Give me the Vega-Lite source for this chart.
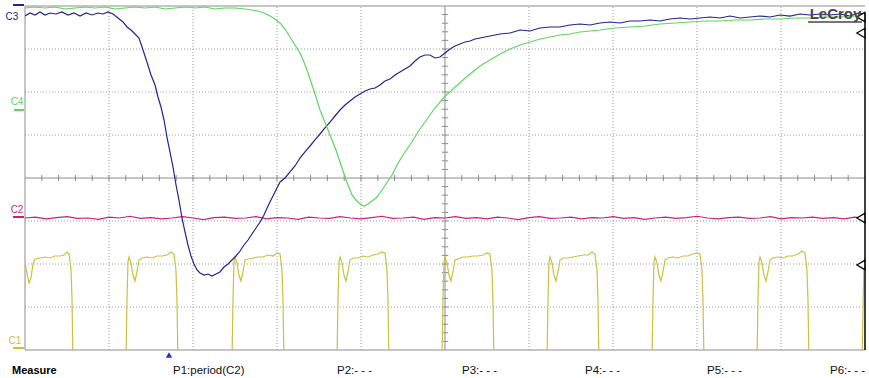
{
"$schema": "https://vega.github.io/schema/vega-lite/v6.json",
"width": 840, "height": 344,
"autosize": {"type": "none"},
"padding": {"left": 25, "top": 6, "right": 4, "bottom": 28},
"background": "white",
"config": {"view": {"stroke": null}, "axis": {"disable": true}, "legend": {"disable": true}, "font": "Liberation Sans"},
"datasets": {
"gridx": [{"x":1},{"x":2},{"x":3},{"x":4},{"x":6},{"x":7},{"x":8},{"x":9}],
"gridy": [{"y":-3},{"y":-2},{"y":-1},{"y":1},{"y":2},{"y":3}],
"frame": [{"x":0,"x2":0,"y":-4,"y2":4},{"x":0,"x2":10,"y":-4,"y2":-4},{"x":0,"x2":10,"y":4,"y2":4},{"x":5,"x2":5,"y":-4,"y2":4},{"x":0,"x2":10,"y":0,"y2":0}],
"hticks": [{"t":0.2},{"t":0.4},{"t":0.6},{"t":0.8},{"t":1.0},{"t":1.2},{"t":1.4},{"t":1.6},{"t":1.8},{"t":2.0},{"t":2.2},{"t":2.4},{"t":2.6},{"t":2.8},{"t":3.0},{"t":3.2},{"t":3.4},{"t":3.6},{"t":3.8},{"t":4.0},{"t":4.2},{"t":4.4},{"t":4.6},{"t":4.8},{"t":5.2},{"t":5.4},{"t":5.6},{"t":5.8},{"t":6.0},{"t":6.2},{"t":6.4},{"t":6.6},{"t":6.8},{"t":7.0},{"t":7.2},{"t":7.4},{"t":7.6},{"t":7.8},{"t":8.0},{"t":8.2},{"t":8.4},{"t":8.6},{"t":8.8},{"t":9.0},{"t":9.2},{"t":9.4},{"t":9.6},{"t":9.8}],
"vticks": [{"t":-3.8},{"t":-3.6},{"t":-3.4},{"t":-3.2},{"t":-3.0},{"t":-2.8},{"t":-2.6},{"t":-2.4},{"t":-2.2},{"t":-2.0},{"t":-1.8},{"t":-1.6},{"t":-1.4},{"t":-1.2},{"t":-1.0},{"t":-0.8},{"t":-0.6},{"t":-0.4},{"t":-0.2},{"t":0.2},{"t":0.4},{"t":0.6},{"t":0.8},{"t":1.0},{"t":1.2},{"t":1.4},{"t":1.6},{"t":1.8},{"t":2.0},{"t":2.2},{"t":2.4},{"t":2.6},{"t":2.8},{"t":3.0},{"t":3.2},{"t":3.4},{"t":3.6},{"t":3.8}],
"chmarks": [{"ch":"C3","x":-0.143,"x2":-0.012,"y":4.023},{"ch":"C4","x":-0.131,"x2":-0.012,"y":1.581},{"ch":"C2","x":-0.143,"x2":-0.012,"y":-0.907},{"ch":"C1","x":-0.143,"x2":-0.012,"y":-3.953}],
"chlabels": [{"ch":"C3","x":-0.155,"y":3.744},{"ch":"C4","x":-0.095,"y":1.767},{"ch":"C2","x":-0.095,"y":-0.744},{"ch":"C1","x":-0.119,"y":-3.791}],
"edgemarks": [{"y":3.744},{"y":3.37},{"y":-0.93},{"y":-2.023}],
"meas": [{"t":"P1:period(C2)","x":1.762},{"t":"P2:- - -","x":3.714},{"t":"P3:- - -","x":5.202},{"t":"P4:- - -","x":6.667},{"t":"P5:- - -","x":8.119},{"t":"P6:- - -","x":9.583}],
"traces": [
{"ch":"C1","x":0,"y":-1.953},{"ch":"C1","x":0.012,"y":-2.093},{"ch":"C1","x":0.036,"y":-2.326},{"ch":"C1","x":0.048,"y":-2.442},{"ch":"C1","x":0.071,"y":-2.326},{"ch":"C1","x":0.095,"y":-2.0},{"ch":"C1","x":0.119,"y":-1.884},{"ch":"C1","x":0.179,"y":-1.86},{"ch":"C1","x":0.238,"y":-1.837},{"ch":"C1","x":0.298,"y":-1.86},{"ch":"C1","x":0.357,"y":-1.814},{"ch":"C1","x":0.417,"y":-1.814},{"ch":"C1","x":0.464,"y":-1.791},{"ch":"C1","x":0.5,"y":-1.721},{"ch":"C1","x":0.524,"y":-1.767},{"ch":"C1","x":0.548,"y":-2.14},{"ch":"C1","x":0.56,"y":-2.837},{"ch":"C1","x":0.571,"y":-4.256},
{"ch":"C1","x":1.202,"y":-4.256},{"ch":"C1","x":1.214,"y":-2.837},{"ch":"C1","x":1.226,"y":-1.953},{"ch":"C1","x":1.238,"y":-1.837},{"ch":"C1","x":1.262,"y":-1.977},{"ch":"C1","x":1.285,"y":-2.256},{"ch":"C1","x":1.309,"y":-2.395},{"ch":"C1","x":1.333,"y":-2.186},{"ch":"C1","x":1.357,"y":-1.907},{"ch":"C1","x":1.393,"y":-1.86},{"ch":"C1","x":1.452,"y":-1.837},{"ch":"C1","x":1.512,"y":-1.86},{"ch":"C1","x":1.571,"y":-1.814},{"ch":"C1","x":1.631,"y":-1.814},{"ch":"C1","x":1.69,"y":-1.791},{"ch":"C1","x":1.738,"y":-1.721},{"ch":"C1","x":1.774,"y":-1.767},{"ch":"C1","x":1.797,"y":-2.14},{"ch":"C1","x":1.809,"y":-2.837},{"ch":"C1","x":1.821,"y":-4.256},
{"ch":"C1","x":2.464,"y":-4.256},{"ch":"C1","x":2.476,"y":-2.837},{"ch":"C1","x":2.488,"y":-1.953},{"ch":"C1","x":2.5,"y":-1.837},{"ch":"C1","x":2.524,"y":-1.977},{"ch":"C1","x":2.547,"y":-2.256},{"ch":"C1","x":2.571,"y":-2.395},{"ch":"C1","x":2.595,"y":-2.186},{"ch":"C1","x":2.619,"y":-1.907},{"ch":"C1","x":2.655,"y":-1.884},{"ch":"C1","x":2.714,"y":-1.86},{"ch":"C1","x":2.774,"y":-1.837},{"ch":"C1","x":2.833,"y":-1.837},{"ch":"C1","x":2.893,"y":-1.791},{"ch":"C1","x":2.952,"y":-1.814},{"ch":"C1","x":3.0,"y":-1.744},{"ch":"C1","x":3.036,"y":-1.767},{"ch":"C1","x":3.059,"y":-2.14},{"ch":"C1","x":3.071,"y":-2.837},{"ch":"C1","x":3.083,"y":-4.256},
{"ch":"C1","x":3.714,"y":-4.256},{"ch":"C1","x":3.726,"y":-2.837},{"ch":"C1","x":3.738,"y":-1.953},{"ch":"C1","x":3.75,"y":-1.837},{"ch":"C1","x":3.774,"y":-1.977},{"ch":"C1","x":3.797,"y":-2.256},{"ch":"C1","x":3.821,"y":-2.395},{"ch":"C1","x":3.845,"y":-2.186},{"ch":"C1","x":3.869,"y":-1.907},{"ch":"C1","x":3.905,"y":-1.86},{"ch":"C1","x":3.964,"y":-1.86},{"ch":"C1","x":4.024,"y":-1.814},{"ch":"C1","x":4.083,"y":-1.837},{"ch":"C1","x":4.143,"y":-1.791},{"ch":"C1","x":4.202,"y":-1.767},{"ch":"C1","x":4.25,"y":-1.721},{"ch":"C1","x":4.286,"y":-1.744},{"ch":"C1","x":4.309,"y":-2.14},{"ch":"C1","x":4.321,"y":-2.837},{"ch":"C1","x":4.333,"y":-4.256},
{"ch":"C1","x":4.964,"y":-4.256},{"ch":"C1","x":4.976,"y":-2.837},{"ch":"C1","x":4.988,"y":-1.953},{"ch":"C1","x":5.0,"y":-1.837},{"ch":"C1","x":5.024,"y":-1.977},{"ch":"C1","x":5.047,"y":-2.256},{"ch":"C1","x":5.071,"y":-2.395},{"ch":"C1","x":5.095,"y":-2.186},{"ch":"C1","x":5.119,"y":-1.907},{"ch":"C1","x":5.155,"y":-1.884},{"ch":"C1","x":5.214,"y":-1.837},{"ch":"C1","x":5.274,"y":-1.837},{"ch":"C1","x":5.333,"y":-1.814},{"ch":"C1","x":5.393,"y":-1.814},{"ch":"C1","x":5.452,"y":-1.791},{"ch":"C1","x":5.5,"y":-1.744},{"ch":"C1","x":5.536,"y":-1.767},{"ch":"C1","x":5.559,"y":-2.14},{"ch":"C1","x":5.571,"y":-2.837},{"ch":"C1","x":5.583,"y":-4.256},
{"ch":"C1","x":6.214,"y":-4.256},{"ch":"C1","x":6.226,"y":-2.837},{"ch":"C1","x":6.238,"y":-1.953},{"ch":"C1","x":6.25,"y":-1.837},{"ch":"C1","x":6.274,"y":-1.977},{"ch":"C1","x":6.297,"y":-2.256},{"ch":"C1","x":6.321,"y":-2.395},{"ch":"C1","x":6.345,"y":-2.186},{"ch":"C1","x":6.369,"y":-1.907},{"ch":"C1","x":6.405,"y":-1.86},{"ch":"C1","x":6.464,"y":-1.86},{"ch":"C1","x":6.524,"y":-1.837},{"ch":"C1","x":6.583,"y":-1.814},{"ch":"C1","x":6.643,"y":-1.791},{"ch":"C1","x":6.702,"y":-1.791},{"ch":"C1","x":6.75,"y":-1.721},{"ch":"C1","x":6.786,"y":-1.767},{"ch":"C1","x":6.809,"y":-2.14},{"ch":"C1","x":6.821,"y":-2.837},{"ch":"C1","x":6.833,"y":-4.256},
{"ch":"C1","x":7.464,"y":-4.256},{"ch":"C1","x":7.476,"y":-2.837},{"ch":"C1","x":7.488,"y":-1.953},{"ch":"C1","x":7.5,"y":-1.837},{"ch":"C1","x":7.524,"y":-1.977},{"ch":"C1","x":7.547,"y":-2.256},{"ch":"C1","x":7.571,"y":-2.395},{"ch":"C1","x":7.595,"y":-2.186},{"ch":"C1","x":7.619,"y":-1.907},{"ch":"C1","x":7.655,"y":-1.86},{"ch":"C1","x":7.714,"y":-1.837},{"ch":"C1","x":7.774,"y":-1.86},{"ch":"C1","x":7.833,"y":-1.814},{"ch":"C1","x":7.893,"y":-1.814},{"ch":"C1","x":7.952,"y":-1.767},{"ch":"C1","x":8.0,"y":-1.744},{"ch":"C1","x":8.036,"y":-1.767},{"ch":"C1","x":8.059,"y":-2.14},{"ch":"C1","x":8.071,"y":-2.837},{"ch":"C1","x":8.083,"y":-4.256},
{"ch":"C1","x":8.714,"y":-4.256},{"ch":"C1","x":8.726,"y":-2.837},{"ch":"C1","x":8.738,"y":-1.953},{"ch":"C1","x":8.75,"y":-1.837},{"ch":"C1","x":8.774,"y":-1.977},{"ch":"C1","x":8.797,"y":-2.256},{"ch":"C1","x":8.821,"y":-2.395},{"ch":"C1","x":8.845,"y":-2.186},{"ch":"C1","x":8.869,"y":-1.907},{"ch":"C1","x":8.905,"y":-1.86},{"ch":"C1","x":8.964,"y":-1.837},{"ch":"C1","x":9.024,"y":-1.86},{"ch":"C1","x":9.083,"y":-1.814},{"ch":"C1","x":9.143,"y":-1.814},{"ch":"C1","x":9.202,"y":-1.767},{"ch":"C1","x":9.25,"y":-1.698},{"ch":"C1","x":9.286,"y":-1.744},{"ch":"C1","x":9.309,"y":-2.14},{"ch":"C1","x":9.321,"y":-2.837},{"ch":"C1","x":9.333,"y":-4.256},
{"ch":"C1","x":9.964,"y":-4.256},{"ch":"C1","x":9.988,"y":-1.953},{"ch":"C1","x":10,"y":-1.837},
{"ch":"C2","x":0,"y":-0.93},{"ch":"C2","x":0.125,"y":-0.91},{"ch":"C2","x":0.25,"y":-0.95},{"ch":"C2","x":0.375,"y":-0.92},{"ch":"C2","x":0.5,"y":-0.9},{"ch":"C2","x":0.625,"y":-0.94},{"ch":"C2","x":0.75,"y":-0.93},{"ch":"C2","x":0.875,"y":-0.96},{"ch":"C2","x":1.0,"y":-0.91},{"ch":"C2","x":1.125,"y":-0.93},{"ch":"C2","x":1.25,"y":-0.89},{"ch":"C2","x":1.375,"y":-0.94},{"ch":"C2","x":1.5,"y":-0.92},{"ch":"C2","x":1.625,"y":-0.95},{"ch":"C2","x":1.75,"y":-0.93},{"ch":"C2","x":1.875,"y":-0.9},{"ch":"C2","x":2.0,"y":-0.93},{"ch":"C2","x":2.125,"y":-0.97},{"ch":"C2","x":2.25,"y":-0.92},{"ch":"C2","x":2.375,"y":-0.91},{"ch":"C2","x":2.5,"y":-0.94},{"ch":"C2","x":2.625,"y":-0.93},{"ch":"C2","x":2.75,"y":-0.9},{"ch":"C2","x":2.875,"y":-0.95},{"ch":"C2","x":3.0,"y":-0.92},{"ch":"C2","x":3.125,"y":-0.93},{"ch":"C2","x":3.25,"y":-0.96},{"ch":"C2","x":3.375,"y":-0.91},{"ch":"C2","x":3.5,"y":-0.93},{"ch":"C2","x":3.625,"y":-0.94},{"ch":"C2","x":3.75,"y":-0.9},{"ch":"C2","x":3.875,"y":-0.93},{"ch":"C2","x":4.0,"y":-0.95},{"ch":"C2","x":4.125,"y":-0.92},{"ch":"C2","x":4.25,"y":-0.89},{"ch":"C2","x":4.375,"y":-0.94},{"ch":"C2","x":4.5,"y":-0.93},{"ch":"C2","x":4.625,"y":-0.91},{"ch":"C2","x":4.75,"y":-0.96},{"ch":"C2","x":4.875,"y":-0.92},{"ch":"C2","x":5.0,"y":-0.93},{"ch":"C2","x":5.125,"y":-0.9},{"ch":"C2","x":5.25,"y":-0.94},{"ch":"C2","x":5.375,"y":-0.92},{"ch":"C2","x":5.5,"y":-0.95},{"ch":"C2","x":5.625,"y":-0.91},{"ch":"C2","x":5.75,"y":-0.93},{"ch":"C2","x":5.875,"y":-0.97},{"ch":"C2","x":6.0,"y":-0.92},{"ch":"C2","x":6.125,"y":-0.9},{"ch":"C2","x":6.25,"y":-0.94},{"ch":"C2","x":6.375,"y":-0.93},{"ch":"C2","x":6.5,"y":-0.91},{"ch":"C2","x":6.625,"y":-0.95},{"ch":"C2","x":6.75,"y":-0.92},{"ch":"C2","x":6.875,"y":-0.93},{"ch":"C2","x":7.0,"y":-0.9},{"ch":"C2","x":7.125,"y":-0.94},{"ch":"C2","x":7.25,"y":-0.92},{"ch":"C2","x":7.375,"y":-0.96},{"ch":"C2","x":7.5,"y":-0.93},{"ch":"C2","x":7.625,"y":-0.91},{"ch":"C2","x":7.75,"y":-0.94},{"ch":"C2","x":7.875,"y":-0.92},{"ch":"C2","x":8.0,"y":-0.89},{"ch":"C2","x":8.125,"y":-0.93},{"ch":"C2","x":8.25,"y":-0.95},{"ch":"C2","x":8.375,"y":-0.92},{"ch":"C2","x":8.5,"y":-0.91},{"ch":"C2","x":8.625,"y":-0.94},{"ch":"C2","x":8.75,"y":-0.93},{"ch":"C2","x":8.875,"y":-0.9},{"ch":"C2","x":9.0,"y":-0.95},{"ch":"C2","x":9.125,"y":-0.92},{"ch":"C2","x":9.25,"y":-0.93},{"ch":"C2","x":9.375,"y":-0.91},{"ch":"C2","x":9.5,"y":-0.94},{"ch":"C2","x":9.625,"y":-0.92},{"ch":"C2","x":9.75,"y":-0.95},{"ch":"C2","x":9.875,"y":-0.91},{"ch":"C2","x":10,"y":-0.93},
{"ch":"C3","x":0,"y":3.767},{"ch":"C3","x":0.06,"y":3.837},{"ch":"C3","x":0.119,"y":3.791},{"ch":"C3","x":0.179,"y":3.86},{"ch":"C3","x":0.238,"y":3.791},{"ch":"C3","x":0.298,"y":3.837},{"ch":"C3","x":0.369,"y":3.814},{"ch":"C3","x":0.44,"y":3.86},{"ch":"C3","x":0.512,"y":3.791},{"ch":"C3","x":0.583,"y":3.837},{"ch":"C3","x":0.655,"y":3.767},{"ch":"C3","x":0.726,"y":3.837},{"ch":"C3","x":0.798,"y":3.791},{"ch":"C3","x":0.869,"y":3.837},{"ch":"C3","x":0.929,"y":3.814},{"ch":"C3","x":0.988,"y":3.86},{"ch":"C3","x":1.048,"y":3.814},{"ch":"C3","x":1.107,"y":3.721},{"ch":"C3","x":1.167,"y":3.628},{"ch":"C3","x":1.214,"y":3.512},{"ch":"C3","x":1.262,"y":3.442},{"ch":"C3","x":1.31,"y":3.349},{"ch":"C3","x":1.357,"y":3.256},{"ch":"C3","x":1.405,"y":2.977},{"ch":"C3","x":1.452,"y":2.698},{"ch":"C3","x":1.5,"y":2.395},{"ch":"C3","x":1.548,"y":2.163},{"ch":"C3","x":1.583,"y":1.884},{"ch":"C3","x":1.619,"y":1.651},{"ch":"C3","x":1.655,"y":1.349},{"ch":"C3","x":1.69,"y":0.953},{"ch":"C3","x":1.726,"y":0.605},{"ch":"C3","x":1.762,"y":0.256},{"ch":"C3","x":1.798,"y":-0.163},{"ch":"C3","x":1.833,"y":-0.512},{"ch":"C3","x":1.869,"y":-0.93},{"ch":"C3","x":1.905,"y":-1.256},{"ch":"C3","x":1.94,"y":-1.558},{"ch":"C3","x":1.976,"y":-1.814},{"ch":"C3","x":2.012,"y":-2.0},{"ch":"C3","x":2.048,"y":-2.14},{"ch":"C3","x":2.083,"y":-2.209},{"ch":"C3","x":2.131,"y":-2.256},{"ch":"C3","x":2.179,"y":-2.233},{"ch":"C3","x":2.226,"y":-2.279},{"ch":"C3","x":2.274,"y":-2.233},{"ch":"C3","x":2.321,"y":-2.186},{"ch":"C3","x":2.369,"y":-2.07},{"ch":"C3","x":2.417,"y":-2.0},{"ch":"C3","x":2.464,"y":-1.907},{"ch":"C3","x":2.512,"y":-1.814},{"ch":"C3","x":2.56,"y":-1.698},{"ch":"C3","x":2.607,"y":-1.558},{"ch":"C3","x":2.655,"y":-1.442},{"ch":"C3","x":2.702,"y":-1.302},{"ch":"C3","x":2.75,"y":-1.163},{"ch":"C3","x":2.798,"y":-1.023},{"ch":"C3","x":2.845,"y":-0.86},{"ch":"C3","x":2.893,"y":-0.651},{"ch":"C3","x":2.94,"y":-0.465},{"ch":"C3","x":2.988,"y":-0.279},{"ch":"C3","x":3.036,"y":-0.093},{"ch":"C3","x":3.095,"y":0},{"ch":"C3","x":3.155,"y":0.14},{"ch":"C3","x":3.214,"y":0.279},{"ch":"C3","x":3.274,"y":0.465},{"ch":"C3","x":3.333,"y":0.605},{"ch":"C3","x":3.393,"y":0.744},{"ch":"C3","x":3.452,"y":0.884},{"ch":"C3","x":3.512,"y":1.023},{"ch":"C3","x":3.571,"y":1.163},{"ch":"C3","x":3.631,"y":1.302},{"ch":"C3","x":3.69,"y":1.442},{"ch":"C3","x":3.75,"y":1.581},{"ch":"C3","x":3.81,"y":1.698},{"ch":"C3","x":3.869,"y":1.791},{"ch":"C3","x":3.929,"y":1.884},{"ch":"C3","x":3.988,"y":1.953},{"ch":"C3","x":4.048,"y":2.023},{"ch":"C3","x":4.107,"y":2.07},{"ch":"C3","x":4.167,"y":2.093},{"ch":"C3","x":4.226,"y":2.163},{"ch":"C3","x":4.286,"y":2.256},{"ch":"C3","x":4.345,"y":2.302},{"ch":"C3","x":4.405,"y":2.395},{"ch":"C3","x":4.464,"y":2.465},{"ch":"C3","x":4.524,"y":2.535},{"ch":"C3","x":4.583,"y":2.605},{"ch":"C3","x":4.643,"y":2.721},{"ch":"C3","x":4.702,"y":2.814},{"ch":"C3","x":4.762,"y":2.86},{"ch":"C3","x":4.821,"y":2.86},{"ch":"C3","x":4.881,"y":2.791},{"ch":"C3","x":4.94,"y":2.814},{"ch":"C3","x":5.0,"y":2.907},{"ch":"C3","x":5.06,"y":3.0},{"ch":"C3","x":5.119,"y":3.07},{"ch":"C3","x":5.179,"y":3.116},{"ch":"C3","x":5.238,"y":3.163},{"ch":"C3","x":5.298,"y":3.186},{"ch":"C3","x":5.357,"y":3.233},{"ch":"C3","x":5.417,"y":3.256},{"ch":"C3","x":5.536,"y":3.302},{"ch":"C3","x":5.655,"y":3.349},{"ch":"C3","x":5.774,"y":3.372},{"ch":"C3","x":5.893,"y":3.442},{"ch":"C3","x":6.012,"y":3.419},{"ch":"C3","x":6.131,"y":3.488},{"ch":"C3","x":6.25,"y":3.512},{"ch":"C3","x":6.369,"y":3.512},{"ch":"C3","x":6.488,"y":3.558},{"ch":"C3","x":6.607,"y":3.581},{"ch":"C3","x":6.726,"y":3.558},{"ch":"C3","x":6.845,"y":3.605},{"ch":"C3","x":6.964,"y":3.628},{"ch":"C3","x":7.083,"y":3.605},{"ch":"C3","x":7.202,"y":3.651},{"ch":"C3","x":7.321,"y":3.651},{"ch":"C3","x":7.44,"y":3.674},{"ch":"C3","x":7.56,"y":3.651},{"ch":"C3","x":7.679,"y":3.698},{"ch":"C3","x":7.798,"y":3.721},{"ch":"C3","x":7.917,"y":3.698},{"ch":"C3","x":8.036,"y":3.721},{"ch":"C3","x":8.155,"y":3.744},{"ch":"C3","x":8.274,"y":3.721},{"ch":"C3","x":8.393,"y":3.767},{"ch":"C3","x":8.512,"y":3.721},{"ch":"C3","x":8.631,"y":3.744},{"ch":"C3","x":8.75,"y":3.767},{"ch":"C3","x":8.869,"y":3.744},{"ch":"C3","x":8.988,"y":3.791},{"ch":"C3","x":9.107,"y":3.767},{"ch":"C3","x":9.226,"y":3.814},{"ch":"C3","x":9.345,"y":3.791},{"ch":"C3","x":9.464,"y":3.814},{"ch":"C3","x":9.583,"y":3.791},{"ch":"C3","x":9.702,"y":3.814},{"ch":"C3","x":9.821,"y":3.767},{"ch":"C3","x":9.917,"y":3.837},{"ch":"C3","x":10,"y":3.814},
{"ch":"C4","x":0,"y":3.953},{"ch":"C4","x":0.119,"y":3.977},{"ch":"C4","x":0.238,"y":3.953},{"ch":"C4","x":0.357,"y":3.977},{"ch":"C4","x":0.476,"y":3.93},{"ch":"C4","x":0.595,"y":3.953},{"ch":"C4","x":0.714,"y":3.977},{"ch":"C4","x":0.833,"y":3.953},{"ch":"C4","x":0.952,"y":3.977},{"ch":"C4","x":1.071,"y":3.93},{"ch":"C4","x":1.19,"y":3.953},{"ch":"C4","x":1.31,"y":3.977},{"ch":"C4","x":1.429,"y":3.953},{"ch":"C4","x":1.548,"y":3.977},{"ch":"C4","x":1.667,"y":3.93},{"ch":"C4","x":1.786,"y":3.953},{"ch":"C4","x":1.905,"y":3.977},{"ch":"C4","x":2.024,"y":3.953},{"ch":"C4","x":2.143,"y":3.977},{"ch":"C4","x":2.262,"y":3.93},{"ch":"C4","x":2.381,"y":3.953},{"ch":"C4","x":2.5,"y":3.953},{"ch":"C4","x":2.619,"y":3.93},{"ch":"C4","x":2.702,"y":3.907},{"ch":"C4","x":2.774,"y":3.884},{"ch":"C4","x":2.845,"y":3.837},{"ch":"C4","x":2.917,"y":3.767},{"ch":"C4","x":2.976,"y":3.698},{"ch":"C4","x":3.036,"y":3.605},{"ch":"C4","x":3.095,"y":3.465},{"ch":"C4","x":3.155,"y":3.279},{"ch":"C4","x":3.214,"y":3.093},{"ch":"C4","x":3.274,"y":2.907},{"ch":"C4","x":3.321,"y":2.698},{"ch":"C4","x":3.369,"y":2.442},{"ch":"C4","x":3.417,"y":2.163},{"ch":"C4","x":3.464,"y":1.884},{"ch":"C4","x":3.512,"y":1.581},{"ch":"C4","x":3.56,"y":1.349},{"ch":"C4","x":3.607,"y":1.116},{"ch":"C4","x":3.655,"y":0.884},{"ch":"C4","x":3.702,"y":0.651},{"ch":"C4","x":3.75,"y":0.372},{"ch":"C4","x":3.798,"y":0.093},{"ch":"C4","x":3.845,"y":-0.163},{"ch":"C4","x":3.893,"y":-0.395},{"ch":"C4","x":3.94,"y":-0.512},{"ch":"C4","x":3.988,"y":-0.605},{"ch":"C4","x":4.036,"y":-0.651},{"ch":"C4","x":4.083,"y":-0.605},{"ch":"C4","x":4.131,"y":-0.535},{"ch":"C4","x":4.179,"y":-0.465},{"ch":"C4","x":4.226,"y":-0.349},{"ch":"C4","x":4.274,"y":-0.209},{"ch":"C4","x":4.321,"y":-0.07},{"ch":"C4","x":4.369,"y":0.07},{"ch":"C4","x":4.417,"y":0.256},{"ch":"C4","x":4.464,"y":0.419},{"ch":"C4","x":4.524,"y":0.605},{"ch":"C4","x":4.583,"y":0.767},{"ch":"C4","x":4.643,"y":0.953},{"ch":"C4","x":4.702,"y":1.14},{"ch":"C4","x":4.762,"y":1.302},{"ch":"C4","x":4.821,"y":1.465},{"ch":"C4","x":4.881,"y":1.628},{"ch":"C4","x":4.94,"y":1.767},{"ch":"C4","x":5.0,"y":1.907},{"ch":"C4","x":5.06,"y":2.0},{"ch":"C4","x":5.119,"y":2.116},{"ch":"C4","x":5.179,"y":2.209},{"ch":"C4","x":5.238,"y":2.326},{"ch":"C4","x":5.298,"y":2.419},{"ch":"C4","x":5.357,"y":2.512},{"ch":"C4","x":5.417,"y":2.605},{"ch":"C4","x":5.476,"y":2.674},{"ch":"C4","x":5.536,"y":2.744},{"ch":"C4","x":5.595,"y":2.814},{"ch":"C4","x":5.655,"y":2.884},{"ch":"C4","x":5.774,"y":3.0},{"ch":"C4","x":5.893,"y":3.093},{"ch":"C4","x":6.012,"y":3.163},{"ch":"C4","x":6.131,"y":3.233},{"ch":"C4","x":6.25,"y":3.279},{"ch":"C4","x":6.369,"y":3.326},{"ch":"C4","x":6.488,"y":3.349},{"ch":"C4","x":6.607,"y":3.395},{"ch":"C4","x":6.726,"y":3.419},{"ch":"C4","x":6.845,"y":3.442},{"ch":"C4","x":7.024,"y":3.488},{"ch":"C4","x":7.202,"y":3.512},{"ch":"C4","x":7.381,"y":3.535},{"ch":"C4","x":7.56,"y":3.581},{"ch":"C4","x":7.738,"y":3.605},{"ch":"C4","x":7.917,"y":3.628},{"ch":"C4","x":8.095,"y":3.651},{"ch":"C4","x":8.274,"y":3.651},{"ch":"C4","x":8.452,"y":3.674},{"ch":"C4","x":8.631,"y":3.674},{"ch":"C4","x":8.81,"y":3.698},{"ch":"C4","x":8.988,"y":3.698},{"ch":"C4","x":9.167,"y":3.721},{"ch":"C4","x":9.345,"y":3.721},{"ch":"C4","x":9.524,"y":3.744},{"ch":"C4","x":9.702,"y":3.744},{"ch":"C4","x":9.881,"y":3.767},{"ch":"C4","x":10,"y":3.767}
]
},
"layer": [
{"data": {"name": "gridx"}, "mark": {"type": "rule", "color": "#9c9c9c", "strokeDash": [1, 2], "strokeWidth": 1},
 "encoding": {"x": {"field": "x", "type": "quantitative", "scale": {"domain": [0, 10], "nice": false, "zero": false}}, "y": {"datum": -4, "scale": {"domain": [-4, 4], "nice": false, "zero": false}}, "y2": {"datum": 4}}},
{"data": {"name": "gridy"}, "mark": {"type": "rule", "color": "#9c9c9c", "strokeDash": [1, 2], "strokeWidth": 1},
 "encoding": {"y": {"field": "y", "type": "quantitative"}, "x": {"datum": 0}, "x2": {"datum": 10}}},
{"data": {"name": "frame"}, "mark": {"type": "rule", "color": "#8c8c8c", "strokeWidth": 1},
 "encoding": {"x": {"field": "x", "type": "quantitative"}, "x2": {"field": "x2"}, "y": {"field": "y", "type": "quantitative"}, "y2": {"field": "y2"}}},
{"data": {"name": "hticks"}, "mark": {"type": "rule", "color": "#8c8c8c", "strokeWidth": 1},
 "encoding": {"x": {"field": "t", "type": "quantitative"}, "y": {"datum": -0.07}, "y2": {"datum": 0.07}}},
{"data": {"name": "vticks"}, "mark": {"type": "rule", "color": "#8c8c8c", "strokeWidth": 1},
 "encoding": {"y": {"field": "t", "type": "quantitative"}, "x": {"datum": 4.962}, "x2": {"datum": 5.038}}},
{"data": {"name": "traces"}, "mark": {"type": "line", "strokeWidth": 1.2, "clip": true},
 "encoding": {"x": {"field": "x", "type": "quantitative"}, "y": {"field": "y", "type": "quantitative"},
  "color": {"field": "ch", "type": "nominal", "scale": {"domain": ["C1", "C2", "C3", "C4"], "range": ["#c9c140", "#c62380", "#24248e", "#5fd65f"]}, "legend": null}}},
{"data": {"name": "chmarks"}, "mark": {"type": "rule", "strokeWidth": 2},
 "encoding": {"x": {"field": "x", "type": "quantitative"}, "x2": {"field": "x2"}, "y": {"field": "y", "type": "quantitative"}, "color": {"field": "ch", "type": "nominal", "legend": null}}},
{"data": {"name": "chlabels"}, "mark": {"type": "text", "fontSize": 10, "align": "center", "baseline": "middle", "font": "Liberation Sans"},
 "encoding": {"x": {"field": "x", "type": "quantitative"}, "y": {"field": "y", "type": "quantitative"}, "text": {"field": "ch"}, "color": {"field": "ch", "type": "nominal", "legend": null}}},
{"data": {"values": [{}]}, "mark": {"type": "rule", "color": "#000000", "strokeWidth": 1.5},
 "encoding": {"x": {"datum": 10}, "y": {"datum": -4}, "y2": {"datum": 3.85}}},
{"data": {"name": "edgemarks"}, "mark": {"type": "point", "shape": "triangle-left", "filled": true, "fill": "white", "stroke": "black", "strokeWidth": 1.2, "size": 85, "opacity": 1},
 "encoding": {"x": {"datum": 9.95}, "y": {"field": "y", "type": "quantitative"}}},
{"data": {"values": [{"t": "LeCroy"}]}, "mark": {"type": "text", "fontSize": 15, "fontWeight": "bold", "color": "#474747", "align": "center", "baseline": "alphabetic", "font": "Liberation Sans"},
 "encoding": {"x": {"datum": 9.649}, "y": {"datum": 3.7}, "text": {"field": "t"}}},
{"data": {"values": [{}]}, "mark": {"type": "rule", "color": "#474747", "strokeWidth": 1.5},
 "encoding": {"x": {"datum": 9.321}, "x2": {"datum": 9.964}, "y": {"datum": 3.63}}},
{"data": {"values": [{"t": "Measure"}]}, "mark": {"type": "text", "fontSize": 11, "fontWeight": "bold", "color": "#000000", "align": "left", "baseline": "middle", "font": "Liberation Sans"},
 "encoding": {"x": {"datum": -0.155}, "y": {"datum": -4.49}, "text": {"field": "t"}}},
{"data": {"name": "meas"}, "mark": {"type": "text", "fontSize": 11.5, "color": "#111111", "align": "left", "baseline": "middle", "font": "Liberation Sans"},
 "encoding": {"x": {"field": "x", "type": "quantitative"}, "y": {"datum": -4.49}, "text": {"field": "t"}}},
{"data": {"values": [{"x": 1.714, "y": -4.116}]}, "mark": {"type": "point", "shape": "triangle-up", "filled": true, "color": "#1f2fd0", "size": 40, "opacity": 1},
 "encoding": {"x": {"field": "x", "type": "quantitative"}, "y": {"field": "y", "type": "quantitative"}}}
]
}
